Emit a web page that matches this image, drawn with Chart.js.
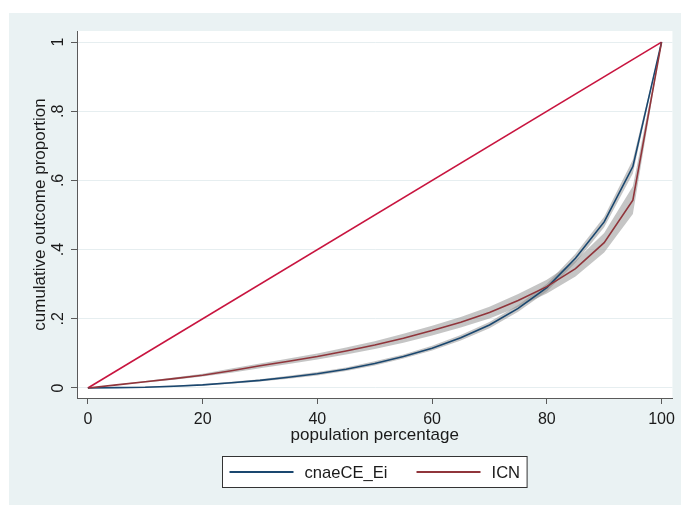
<!DOCTYPE html>
<html><head><meta charset="utf-8">
<script src="https://cdn.jsdelivr.net/npm/chart.js@4.4.1/dist/chart.umd.min.js"></script>
<style>html,body{margin:0;padding:0;background:#fff}#wrap{width:681px;height:505px}</style>
</head><body><div id="wrap"><canvas id="c" width="681" height="505"></canvas></div>
<script>
// ---- data ----
const popPct  = [0, 5, 10, 15, 20, 25, 30, 35, 40, 45, 50, 55, 60, 65, 70, 75, 80, 85, 90, 95, 100];
const cnae    = [0, 0.001, 0.002, 0.005, 0.009, 0.015, 0.022, 0.031, 0.041, 0.054, 0.071, 0.091, 0.115, 0.145, 0.182, 0.230, 0.290, 0.375, 0.480, 0.640, 1.0];
const cnaeLo  = [0, 0.000, 0.001, 0.003, 0.007, 0.012, 0.019, 0.027, 0.036, 0.049, 0.065, 0.085, 0.108, 0.137, 0.173, 0.220, 0.279, 0.362, 0.465, 0.620, 1.0];
const cnaeHi  = [0, 0.002, 0.004, 0.007, 0.011, 0.018, 0.025, 0.035, 0.046, 0.059, 0.077, 0.097, 0.122, 0.153, 0.191, 0.240, 0.301, 0.388, 0.495, 0.660, 1.0];
const icn     = [0, 0.009, 0.018, 0.027, 0.037, 0.050, 0.064, 0.077, 0.091, 0.107, 0.124, 0.144, 0.166, 0.190, 0.218, 0.253, 0.293, 0.345, 0.420, 0.543, 1.0];
const icnLo   = [0, 0.008, 0.016, 0.024, 0.033, 0.044, 0.057, 0.069, 0.082, 0.097, 0.113, 0.131, 0.152, 0.175, 0.201, 0.234, 0.273, 0.322, 0.392, 0.503, 1.0];
const icnHi   = [0, 0.010, 0.020, 0.030, 0.041, 0.056, 0.071, 0.085, 0.100, 0.117, 0.135, 0.157, 0.180, 0.205, 0.235, 0.272, 0.313, 0.368, 0.448, 0.583, 1.0];
const eqX     = [0, 100];
const eqY     = [0, 1];
const xTickVals = [0, 20, 40, 60, 80, 100];
const yTickVals = [0, 0.2, 0.4, 0.6, 0.8, 1];
const yTickLabels = ['0', '.2', '.4', '.6', '.8', '1'];
const legendLabels = ['cnaeCE_Ei', 'ICN'];

// ---- styling ----
const NAVY = '#1a476f', MAROON = '#90353b', DIAG = '#c8143f';
const BAND = 'rgba(140,140,140,0.5)';
const AXIS = '#5a5a5a', GRID = '#e6eef0', TEXT = '#1a1a1a';
const FONT = '"Liberation Sans", Arial, sans-serif';

const pts = (xs, ys) => xs.map((x, i) => ({x, y: ys[i]}));
const bandSet = (label, ys, fill, order) => ({label, data: pts(popPct, ys), borderColor: 'transparent', borderWidth: 0,
  pointRadius: 0, backgroundColor: BAND, fill, order, tension: 0});
const lineSet = (label, xs, ys, color, order) => ({label, data: pts(xs, ys), borderColor: color, borderWidth: 1.6,
  pointRadius: 0, fill: false, order, tension: 0});

const bgPlugin = {
  id: 'bg',
  beforeDraw(chart) {
    const {ctx, chartArea: a, width, height} = chart;
    ctx.save();
    ctx.fillStyle = '#ffffff'; ctx.fillRect(0, 0, width, height);
    ctx.fillStyle = '#eaf2f3'; ctx.fillRect(9, 13, width - 9, height - 13);
    ctx.fillStyle = '#ffffff'; ctx.fillRect(a.left, a.top, a.right - a.left, a.bottom - a.top);
    ctx.restore();
  }
};

const legendPlugin = {
  id: 'boxLegend',
  afterDraw(chart) {
    const {ctx, chartArea: a} = chart;
    const items = legendLabels.map(l => chart.data.datasets.find(d => d.label === l));
    ctx.save();
    ctx.font = '16.6px ' + FONT;
    const lineLen = 64, gap = 11, spacing = 29, padX = 7;
    const widths = items.map(d => ctx.measureText(d.label).width);
    let total = padX * 2;
    widths.forEach((w, i) => { total += lineLen + gap + w + (i ? spacing : 0); });
    const cx = (a.left + a.right) / 2;
    const left = Math.round(cx - total / 2) + 0.5, top = a.bottom + 58.5, h = 31;
    ctx.fillStyle = '#ffffff';
    ctx.fillRect(left, top, total, h);
    ctx.strokeStyle = '#333'; ctx.lineWidth = 1;
    ctx.strokeRect(left, top, total, h);
    let x = left + padX;
    const yMid = top + h / 2;
    items.forEach((d, i) => {
      if (i) x += spacing;
      ctx.strokeStyle = d.borderColor; ctx.lineWidth = 1.8;
      ctx.beginPath(); ctx.moveTo(x, yMid); ctx.lineTo(x + lineLen, yMid); ctx.stroke();
      x += lineLen + gap;
      ctx.fillStyle = TEXT; ctx.textBaseline = 'middle'; ctx.textAlign = 'left';
      ctx.fillText(d.label, x, yMid + 1);
      x += widths[i];
    });
    ctx.restore();
  }
};

new Chart(document.getElementById('c'), {
  type: 'line',
  data: {
    datasets: [
      bandSet('cnaeCE_Ei lower', cnaeLo, false, 3),
      bandSet('cnaeCE_Ei upper', cnaeHi, '-1', 3),
      bandSet('ICN lower', icnLo, false, 2),
      bandSet('ICN upper', icnHi, '-1', 2),
      lineSet('equality', eqX, eqY, DIAG, 1),
      lineSet('ICN', popPct, icn, MAROON, 0),
      lineSet('cnaeCE_Ei', popPct, cnae, NAVY, 0)
    ]
  },
  options: {
    responsive: false,
    animation: false,
    devicePixelRatio: 1,
    layout: {padding: {top: 31, right: 6, bottom: 60, left: 0}},
    plugins: {legend: {display: false}, tooltip: {enabled: false}},
    scales: {
      x: {
        type: 'linear', min: -1.9, max: 101.9,
        afterBuildTicks: s => { s.ticks = xTickVals.map(v => ({value: v})); },
        afterFit: s => { s.height = 47; },
        grid: {drawOnChartArea: false, tickLength: 6, tickColor: AXIS, tickWidth: 1},
        border: {display: true, color: AXIS, width: 1},
        ticks: {color: TEXT, font: {family: FONT, size: 16}, padding: 6, maxRotation: 0, autoSkip: false,
          callback: v => String(v)},
        title: {display: true, text: 'population percentage', color: TEXT,
          font: {family: FONT, size: 17, lineHeight: 1.1}, padding: {top: 0, bottom: 0}}
      },
      y: {
        type: 'linear', min: -0.029, max: 1.032,
        afterBuildTicks: s => { s.ticks = yTickVals.map(v => ({value: v})); },
        afterFit: s => { s.width = 77; },
        grid: {color: GRID, lineWidth: 1, tickLength: 6, tickColor: AXIS, tickWidth: 1},
        border: {display: true, color: AXIS, width: 1},
        ticks: {color: TEXT, font: {family: FONT, size: 16}, padding: 6, minRotation: 90, maxRotation: 90,
          crossAlign: 'center', autoSkip: false,
          callback: v => { const i = yTickVals.indexOf(v); return i >= 0 ? yTickLabels[i] : ''; }},
        title: {display: true, text: 'cumulative outcome proportion', color: TEXT,
          font: {family: FONT, size: 17, lineHeight: 1.2}, padding: {top: 30, bottom: 0}}
      }
    }
  },
  plugins: [bgPlugin, legendPlugin]
});
</script>
</body></html>
